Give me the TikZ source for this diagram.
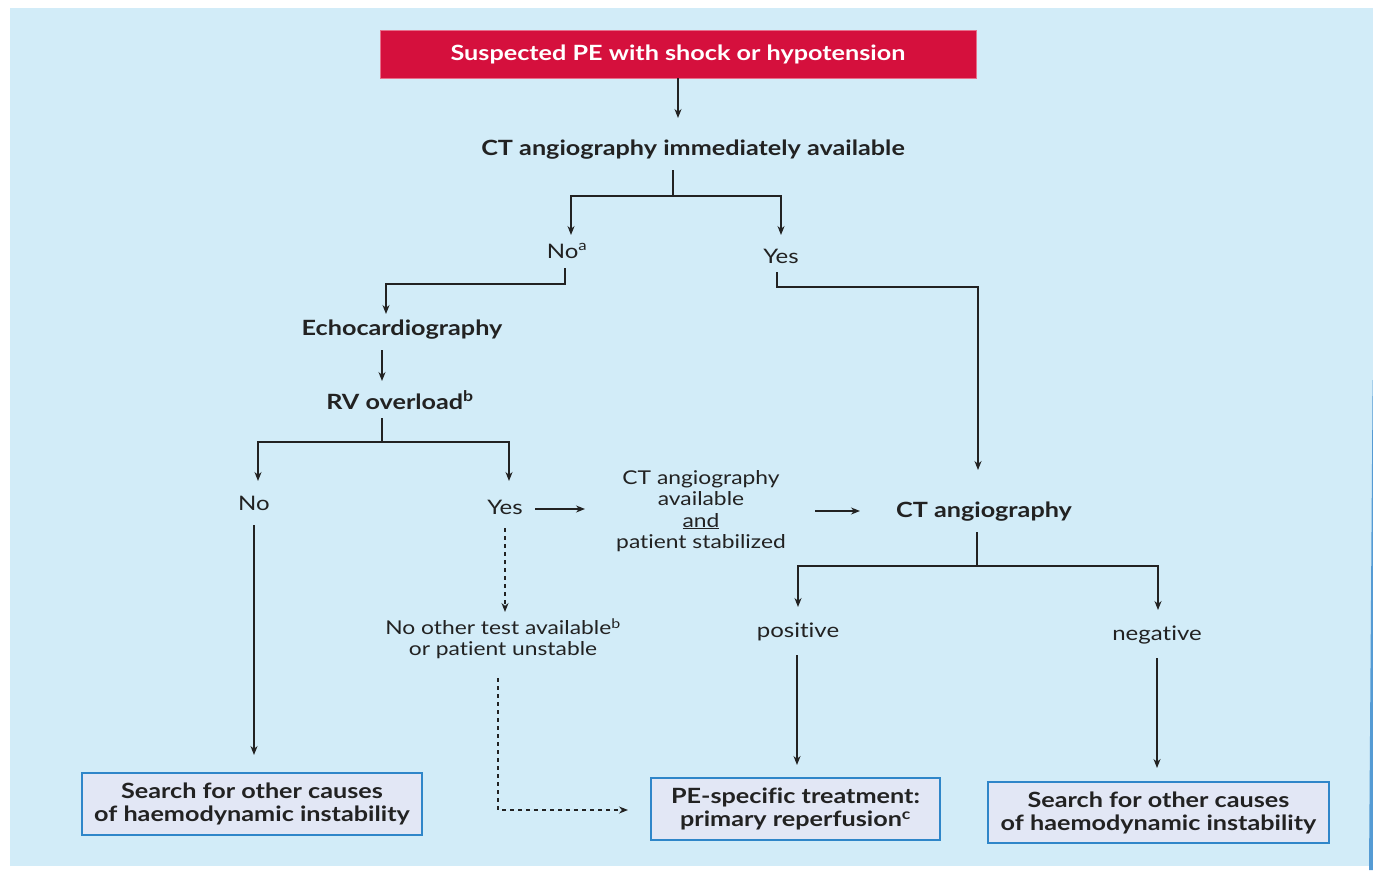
\documentclass[tikz,border=0pt]{standalone}
\usepackage{fontspec}
\setmainfont{Lato}[FakeStretch=1.2, Ligatures={NoCommon}]
\usetikzlibrary{arrows.meta}

\definecolor{bgblue}{HTML}{D2ECF8}
\definecolor{pered}{HTML}{D5103D}
\definecolor{boxfill}{HTML}{E2E7F5}
\definecolor{boxline}{HTML}{2F86C9}
\definecolor{edgeblue}{HTML}{1F78C4}
\definecolor{ink}{HTML}{222222}

\tikzset{
  ln/.style={draw=ink, line width=1.3pt},
  arr/.style={ln, -{Stealth[length=9pt,width=7pt]}},
  darr/.style={arr, dash pattern=on 4pt off 4pt},
  txt/.style={inner sep=0pt, text=ink, align=center,
              font=\fontsize{20}{24}\selectfont},
  btxt/.style={txt, font=\bfseries\fontsize{21}{23}\selectfont},
  redbox/.style={fill=pered, draw=pered!60!white, line width=0.8pt,
                 minimum width=596pt, minimum height=48pt, inner sep=0pt,
                 text=white, font=\bfseries\fontsize{21}{24}\selectfont},
  endbox/.style={fill=boxfill, draw=boxline, line width=2pt, inner sep=0pt,
                 align=center, text=ink,
                 font=\bfseries\fontsize{21}{23}\selectfont}
}

\begin{document}
\begin{tikzpicture}[x=1pt,y=-1pt]
\useasboundingbox (0,0) rectangle (1373,870);
\fill[bgblue] (10,8) rectangle (1373,866);
\fill[edgeblue!70!bgblue] (1372.6,380) -- (1373,380) -- (1373,870) -- (1369,870) -- cycle;

% nodes
\node[redbox] (start) at (678,54) {Suspected PE with shock or hypotension};
\node[btxt] (cta) at (693,150) {CT angiography immediately available};
\node[txt] (noA) at (567,251) {No\textsuperscript{a}};
\node[txt] (yesA) at (781,256) {Yes};
\node[btxt] (echo) at (402,330) {Echocardiography};
\node[btxt] (rv) at (400,400) {RV overload\textsuperscript{b}};
\node[txt] (noB) at (254,503) {No};
\node[txt] (yesB) at (505,507) {Yes};
\node[txt, font=\fontsize{19}{21.5}\selectfont] (stab) at (701,511)
  {CT angiography\\available\\\underline{and}\\patient stabilized};
\node[btxt] (ctb) at (984,512) {CT angiography};
\node[txt] (pos) at (798,632) {positive};
\node[txt] (neg) at (1157,635) {negative};
\node[txt, font=\fontsize{19}{21}\selectfont] (unst) at (503,639)
  {No other test available\textsuperscript{b}\\or patient unstable};

\node[endbox, minimum width=340pt, minimum height=62pt] (left) at (252,804)
  {Search for other causes\\of haemodynamic instability};
\node[endbox, minimum width=289pt, minimum height=62pt] (mid) at (795.5,809)
  {PE-specific treatment:\\primary reperfusion\textsuperscript{c}};
\node[endbox, minimum width=341pt, minimum height=61pt] (right) at (1158.5,812.5)
  {Search for other causes\\of haemodynamic instability};

% connector points
\coordinate (s1) at (678,118);
\coordinate (c0) at (673,170);
\coordinate (c1) at (673,196);
\coordinate (noTip) at (571,235);
\coordinate (yesTip) at (781,235);
\coordinate (n0) at (565,268);
\coordinate (n1) at (565,284);
\coordinate (echoTip) at (386,314);
\coordinate (y0) at (777,272);
\coordinate (y1) at (777,287);
\coordinate (ctbTip) at (978,470);
\coordinate (e0) at (382,350);
\coordinate (rvTip) at (382,381);
\coordinate (r0) at (382,418);
\coordinate (r1) at (382,442);
\coordinate (noBTip) at (258,481);
\coordinate (yesBTip) at (509,481);
\coordinate (h0) at (535,509);
\coordinate (h1) at (585,509);
\coordinate (h2) at (815,511);
\coordinate (h3) at (860,511);
\coordinate (t0) at (977,532);
\coordinate (t1) at (977,566);
\coordinate (posTip) at (798,607);
\coordinate (negTip) at (1158,610);
\coordinate (p0) at (797,655);
\coordinate (p1) at (797,765);
\coordinate (q0) at (1157,658);
\coordinate (q1) at (1157,768);
\coordinate (l0) at (254,525);
\coordinate (l1) at (254,755);
\coordinate (d0) at (505,528);
\coordinate (d1) at (505,612);
\coordinate (u0) at (498,678);
\coordinate (u1) at (498,810);
\coordinate (u2) at (628,810);

% connectors
\draw[arr] (start.south -| s1) -- (s1);
\draw[ln] (c0) -- (c1);
\draw[arr] (c1) -| (noTip);
\draw[arr] (c1) -| (yesTip);
\draw[arr] (n0) -- (n1) -| (echoTip);
\draw[arr] (y0) -- (y1) -| (ctbTip);
\draw[arr] (e0) -- (rvTip);
\draw[ln] (r0) -- (r1);
\draw[arr] (r1) -| (noBTip);
\draw[arr] (r1) -| (yesBTip);
\draw[arr] (h0) -- (h1);
\draw[arr] (h2) -- (h3);
\draw[ln] (t0) -- (t1);
\draw[arr] (t1) -| (posTip);
\draw[arr] (t1) -| (negTip);
\draw[arr] (p0) -- (p1);
\draw[arr] (q0) -- (q1);
\draw[arr] (l0) -- (l1);
\draw[darr] (d0) -- (d1);
\draw[darr] (u0) -- (u1) -- (u2);
\end{tikzpicture}
\end{document}
